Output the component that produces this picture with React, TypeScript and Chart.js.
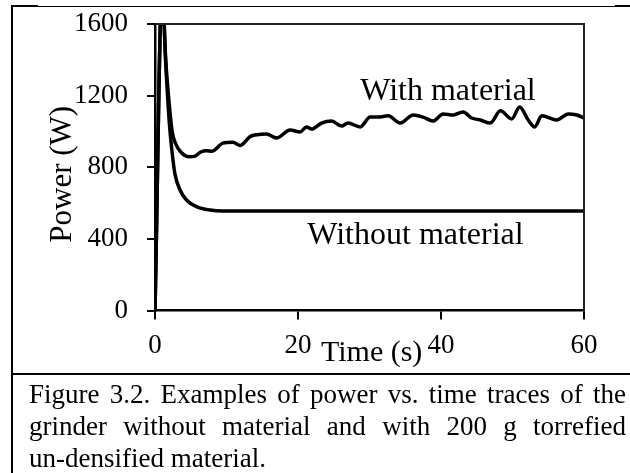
import React, { useEffect, useRef } from "react";
import { Chart, registerables } from "chart.js";

Chart.register(...registerables);

// ---- data ----
const timeWith = [0, 1.0, 1.5, 2.0, 2.4, 2.9, 3.6, 4.8, 5.6, 6.4, 7.2, 8.0, 9.5, 10.9, 11.9, 13.3, 14.3, 15.6, 17.0, 18.9, 20.3, 21.2, 21.9, 23.3, 24.7, 26.1, 27.0, 28.7, 30.1, 31.2, 32.6, 34.3, 36.1, 37.5, 38.9, 40.3, 41.7, 43.1, 44.3, 45.5, 46.9, 48.3, 49.9, 51.0, 52.2, 53.1, 54.1, 56.2, 57.8, 59.0, 60.0];
const powerWith = [0, 1800, 1400, 1150, 1000, 930, 885, 858, 862, 885, 892, 890, 935, 940, 921, 971, 982, 985, 963, 1008, 997, 1025, 1013, 1047, 1058, 1030, 1047, 1025, 1080, 1080, 1087, 1047, 1092, 1080, 1058, 1098, 1092, 1109, 1075, 1064, 1047, 1115, 1070, 1137, 1064, 1025, 1087, 1064, 1098, 1092, 1075];

const timeWithout = [0, 1.0, 1.5, 2.0, 2.4, 2.8, 3.5, 4.4, 5.8, 7.7, 9.5, 20, 30, 40, 50, 60];
const powerWithout = [0, 1800, 1380, 1050, 880, 760, 673, 617, 580, 561, 556, 556, 556, 556, 556, 556];

const xTicks = [0, 20, 40, 60];
const yTicks = [0, 400, 800, 1200, 1600];

const xTitle = "Time (s)";
const yTitle = "Power (W)";
const labelWith = "With material";
const labelWithout = "Without material";
const captionLines = [
  "Figure 3.2. Examples of power vs. time traces of the",
  "grinder without material and with 200 g torrefied",
  "un-densified material.",
];

const SERIF = "'Liberation Serif', 'Times New Roman', serif";

const textPlugin = {
  id: "figText",
  afterDraw(chart: any) {
    const { ctx, chartArea, scales } = chart;
    const xs = scales.x;
    const ys = scales.y;
    ctx.save();
    // top and right frame of plot area
    ctx.strokeStyle = "#222";
    ctx.lineWidth = 2;
    ctx.beginPath();
    ctx.moveTo(chartArea.left, chartArea.top);
    ctx.lineTo(chartArea.right, chartArea.top);
    ctx.lineTo(chartArea.right, chartArea.bottom);
    ctx.stroke();

    ctx.fillStyle = "#000";
    ctx.textBaseline = "alphabetic";
    ctx.font = `32px ${SERIF}`;
    ctx.textAlign = "left";
    ctx.fillText(labelWith, xs.getPixelForValue(28.7), ys.getPixelForValue(1176));
    ctx.fillText(labelWithout, xs.getPixelForValue(21.3), ys.getPixelForValue(372));

    // x title, overlapping tick label row
    ctx.font = `30px ${SERIF}`;
    ctx.textAlign = "center";
    ctx.fillText(xTitle, xs.getPixelForValue(30.3), chartArea.bottom + 50);

    // y title rotated
    ctx.font = `31px ${SERIF}`;
    ctx.translate(71, (chartArea.top + chartArea.bottom) / 2 + 7);
    ctx.rotate(-Math.PI / 2);
    ctx.textAlign = "center";
    ctx.fillText(yTitle, 0, 0);
    ctx.restore();
  },
};

function PowerChart() {
  const ref = useRef<HTMLCanvasElement | null>(null);
  useEffect(() => {
    if (!ref.current) return;
    const chart = new Chart(ref.current, {
      type: "line",
      data: {
        datasets: [
          {
            label: labelWith,
            data: timeWith.map((t, i) => ({ x: t, y: powerWith[i] })),
            borderColor: "#000",
            borderWidth: 3.5,
            pointRadius: 0,
            cubicInterpolationMode: "monotone",
            fill: false,
            clip: 0,
          },
          {
            label: labelWithout,
            data: timeWithout.map((t, i) => ({ x: t, y: powerWithout[i] })),
            borderColor: "#000",
            borderWidth: 3.5,
            pointRadius: 0,
            cubicInterpolationMode: "monotone",
            fill: false,
            clip: 0,
          },
        ],
      },
      options: {
        animation: false,
        responsive: false,
        devicePixelRatio: 1,
        layout: { padding: { left: 0, top: 24, right: 46, bottom: 0 } },
        plugins: { legend: { display: false }, tooltip: { enabled: false } },
        scales: {
          x: {
            type: "linear",
            min: 0,
            max: 60,
            afterBuildTicks: (s: any) => {
              s.ticks = xTicks.map((v) => ({ value: v }));
            },
            afterFit: (s: any) => {
              s.height = 63.5;
              s.paddingLeft = 0;
              s.paddingRight = 0;
            },
            ticks: {
              color: "#000",
              font: { family: SERIF, size: 27 },
              padding: 10,
              maxRotation: 0,
              callback: (v: any) => String(v),
            },
            grid: { drawOnChartArea: false, drawTicks: true, tickLength: 9, color: "#000", lineWidth: 2 },
            border: { display: true, color: "#000", width: 2.5 },
          },
          y: {
            type: "linear",
            min: 0,
            max: 1600,
            afterBuildTicks: (s: any) => {
              s.ticks = yTicks.map((v) => ({ value: v }));
            },
            afterFit: (s: any) => {
              s.width = 155;
              s.paddingTop = 0;
              s.paddingBottom = 0;
            },
            ticks: {
              color: "#000",
              font: { family: SERIF, size: 27 },
              padding: 19,
              callback: (v: any) => String(v),
            },
            grid: { drawOnChartArea: false, drawTicks: true, tickLength: 8, color: "#000", lineWidth: 2 },
            border: { display: true, color: "#000", width: 2.5 },
          },
        },
      },
      plugins: [textPlugin],
    } as any);
    return () => chart.destroy();
  }, []);
  return <canvas ref={ref} width={630} height={374} style={{ display: "block", width: 630, height: 374 }} />;
}

export default function App() {
  const line = (style: React.CSSProperties) => (
    <div style={{ position: "absolute", background: "#000", ...style }} />
  );
  return (
    <div style={{ position: "absolute", left: 0, top: 0, width: 630, height: 473, background: "#fff", overflow: "hidden" }}>
      <PowerChart />
      {line({ left: 38, top: 6, width: 577, height: 1 })}
      {line({ left: 11, top: 5, width: 27, height: 2 })}
      {line({ left: 615, top: 5, width: 15, height: 2 })}
      {line({ left: 11, top: 5, width: 2, height: 468 })}
      {line({ left: 11, top: 373, width: 619, height: 2 })}
      <div
        style={{
          position: "absolute",
          left: 29,
          top: 378,
          width: 597,
          fontFamily: SERIF,
          fontSize: 27,
          lineHeight: "32px",
          color: "#000",
        }}
      >
        {captionLines.map((l, i) => (
          <div
            key={i}
            style={{
              textAlign: i < captionLines.length - 1 ? "justify" : "left",
              textAlignLast: i < captionLines.length - 1 ? "justify" : "left",
              whiteSpace: "nowrap",
            }}
          >
            {l}
          </div>
        ))}
      </div>
    </div>
  );
}
